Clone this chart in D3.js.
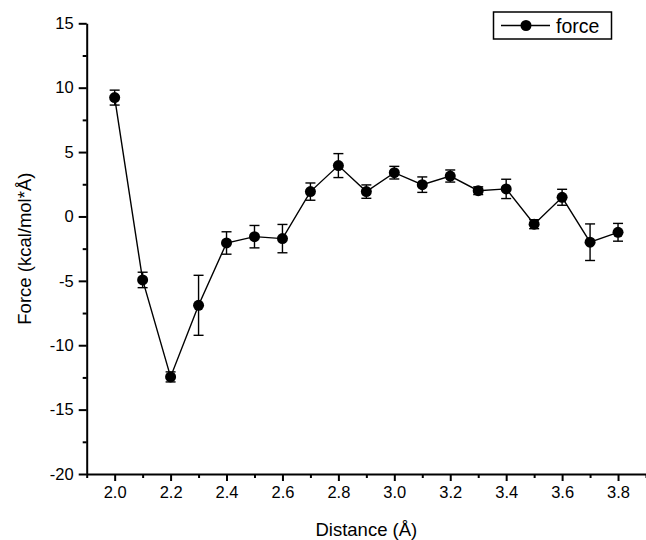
<!DOCTYPE html>
<html>
<head>
<meta charset="utf-8">
<script src="https://cdn.jsdelivr.net/npm/d3@7"></script>
<style>
  body { margin: 0; background: #fff; }
  text { font-family: "Liberation Sans", Arial, sans-serif; fill: #000; }
</style>
</head>
<body>
<script>
// data
var distance = [2.0, 2.1, 2.2, 2.3, 2.4, 2.5, 2.6, 2.7, 2.8, 2.9, 3.0, 3.1, 3.2, 3.3, 3.4, 3.5, 3.6, 3.7, 3.8];
var force    = [9.23, -4.93, -12.46, -6.9, -2.06, -1.57, -1.72, 1.93, 3.95, 1.93, 3.4, 2.47, 3.14, 2.0, 2.14, -0.6, 1.49, -2.0, -1.23];
var forceErr = [0.58, 0.6, 0.39, 2.33, 0.87, 0.87, 1.1, 0.67, 0.93, 0.52, 0.49, 0.6, 0.47, 0.3, 0.75, 0.35, 0.62, 1.42, 0.69];
var xTicks = [2.0, 2.2, 2.4, 2.6, 2.8, 3.0, 3.2, 3.4, 3.6, 3.8];
var yTicks = [-20, -15, -10, -5, 0, 5, 10, 15];

var width = 646, height = 540;
var svg = d3.select("body").append("svg")
    .attr("width", width)
    .attr("height", height);

var x = d3.scaleLinear().domain([1.9, 3.9]).range([86.7, 646]);
var y = d3.scaleLinear().domain([-20, 15]).range([474, 23.3]);

// minor ticks
var xMinor = d3.range(1.9, 3.95, 0.1).filter(function (v) { return Math.abs(Math.round(v * 10) % 2) === 1; });
var yMinor = d3.range(-17.5, 15, 5);

svg.append("g")
    .attr("transform", "translate(0," + y(-20) + ")")
    .call(d3.axisBottom(x).tickValues(xMinor).tickSize(4).tickFormat(""))
    .call(function (g) { g.select(".domain").remove(); g.selectAll("line").attr("stroke-width", 2); });
svg.append("g")
    .attr("transform", "translate(" + x(1.9) + ",0)")
    .call(d3.axisLeft(y).tickValues(yMinor).tickSize(4).tickFormat(""))
    .call(function (g) { g.select(".domain").remove(); g.selectAll("line").attr("stroke-width", 2); });

// major axes
var xAxis = svg.append("g")
    .attr("transform", "translate(0," + y(-20) + ")")
    .call(d3.axisBottom(x).tickValues(xTicks).tickSize(7).tickSizeOuter(0).tickPadding(5).tickFormat(d3.format(".1f")));
var yAxis = svg.append("g")
    .attr("transform", "translate(" + x(1.9) + ",0)")
    .call(d3.axisLeft(y).tickValues(yTicks).tickSize(8).tickSizeOuter(0).tickPadding(5).tickFormat(d3.format("d")));

[xAxis, yAxis].forEach(function (g) {
  g.select(".domain").attr("stroke-width", 2);
  g.selectAll(".tick line").attr("stroke-width", 2);
  g.selectAll("text").attr("font-size", 16.5).attr("font-family", "Liberation Sans, Arial, sans-serif").attr("fill", "#000");
});
yAxis.selectAll("text").text(function (d) { return d < 0 ? "-" + Math.abs(d) : d; });

// axis titles
svg.append("text")
    .attr("x", (x.range()[0] + x.range()[1]) / 2)
    .attr("y", 536)
    .attr("text-anchor", "middle")
    .attr("font-size", 18.5)
    .text("Distance (Å)");
svg.append("text")
    .attr("transform", "translate(31," + (y.range()[0] + y.range()[1]) / 2 + ") rotate(-90)")
    .attr("text-anchor", "middle")
    .attr("font-size", 18.5)
    .text("Force (kcal/mol*Å)");

var pts = distance.map(function (d, i) { return { x: d, y: force[i], e: forceErr[i] }; });

// line
svg.append("path")
    .datum(pts)
    .attr("fill", "none")
    .attr("stroke", "#000")
    .attr("stroke-width", 1.4)
    .attr("d", d3.line().x(function (d) { return x(d.x); }).y(function (d) { return y(d.y); }));

// error bars
var eb = svg.append("g").attr("stroke", "#000").attr("stroke-width", 1.4);
pts.forEach(function (d) {
  var cx = x(d.x), y1 = y(d.y + d.e), y2 = y(d.y - d.e);
  eb.append("line").attr("x1", cx).attr("x2", cx).attr("y1", y1).attr("y2", y2);
  eb.append("line").attr("x1", cx - 5).attr("x2", cx + 5).attr("y1", y1).attr("y2", y1);
  eb.append("line").attr("x1", cx - 5).attr("x2", cx + 5).attr("y1", y2).attr("y2", y2);
});

// markers
svg.append("g").selectAll("circle")
    .data(pts)
    .join("circle")
    .attr("cx", function (d) { return x(d.x); })
    .attr("cy", function (d) { return y(d.y); })
    .attr("r", 5.5)
    .attr("fill", "#000");

// legend
var lg = svg.append("g");
lg.append("rect")
    .attr("x", 493.5).attr("y", 12).attr("width", 118).attr("height", 27)
    .attr("fill", "#fff").attr("stroke", "#000").attr("stroke-width", 1.5);
lg.append("line")
    .attr("x1", 501).attr("x2", 550).attr("y1", 25.5).attr("y2", 25.5)
    .attr("stroke", "#000").attr("stroke-width", 1.4);
lg.append("circle").attr("cx", 526).attr("cy", 25.5).attr("r", 5.5).attr("fill", "#000");
lg.append("text").attr("x", 556).attr("y", 32.5).attr("font-size", 19.5).text("force");
</script>
</body>
</html>
